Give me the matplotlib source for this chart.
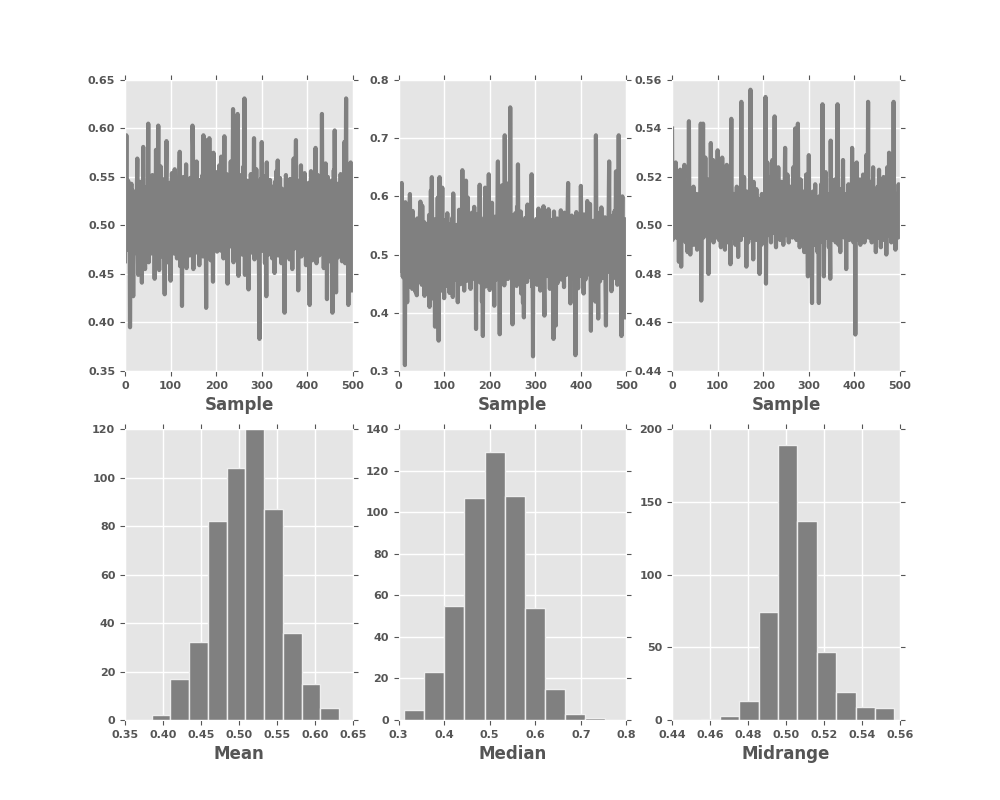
import numpy as np
import matplotlib
matplotlib.use('Agg')
from matplotlib import pyplot as plt

# trace values in thousandths (sample 0..499)
mean_k = [
    463, 548, 512, 593, 497, 531, 475, 546, 488, 520, 541, 395, 476, 529, 543, 502, 487, 536, 427, 518, 471, 533, 506, 490, 524,
    498, 537, 569, 481, 449, 512, 527, 463, 545, 501, 492, 534, 441, 519, 486, 581, 473, 528, 511, 455, 539, 492, 522, 477, 531,
    508, 605, 462, 527, 489, 543, 516, 471, 534, 498, 552, 480, 521, 503, 538, 445, 511, 486, 578, 495, 529, 457, 547, 603, 519,
    454, 532, 501, 561, 476, 525, 493, 548, 510, 467, 537, 484, 429, 526, 497, 553, 587, 472, 515, 539, 488, 522, 461, 544, 503,
    443, 529, 509, 554, 478, 517, 493, 536, 471, 558, 502, 485, 530, 512, 466, 546, 497, 523, 481, 541, 576, 458, 519, 505, 534,
    417, 528, 491, 550, 507, 474, 539, 513, 486, 563, 456, 521, 498, 544, 479, 532, 505, 469, 549, 516, 490, 537, 473, 603, 582,
    455, 526, 501, 545, 483, 519, 494, 566, 472, 533, 510, 488, 547, 459, 524, 502, 538, 476, 515, 491, 552, 468, 593, 507, 480,
    535, 497, 521, 415, 543, 588, 484, 526, 509, 471, 590, 502, 537, 464, 518, 548, 489, 530, 442, 575, 496, 522, 477, 540, 513,
    487, 555, 473, 529, 506, 544, 481, 562, 498, 519, 474, 571, 503, 534, 491, 548, 466, 525, 592, 510, 485, 538, 470, 553, 500,
    440, 531, 512, 549, 478, 527, 493, 566, 505, 483, 541, 519, 620, 462, 536, 499, 557, 474, 524, 508, 545, 487, 615, 501, 448,
    533, 496, 552, 479, 520, 505, 543, 470, 528, 488, 561, 511, 631, 449, 537, 494, 518, 476, 546, 502, 527, 434, 540, 483, 516,
    499, 553, 472, 536, 508, 489, 544, 517, 590, 465, 529, 503, 481, 558, 493, 522, 475, 539, 510, 453, 383, 531, 497, 548, 486,
    586, 474, 526, 501, 543, 488, 519, 461, 551, 496, 427, 565, 512, 483, 535, 470, 523, 507, 547, 479, 530, 492, 514, 466, 540,
    503, 487, 528, 451, 545, 512, 478, 556, 497, 521, 567, 469, 534, 508, 485, 549, 493, 524, 461, 538, 505, 482, 529, 471, 516,
    410, 537, 499, 552, 486, 520, 472, 543, 509, 493, 531, 465, 548, 502, 480, 526, 514, 455, 539, 497, 569, 476, 522, 506, 545,
    588, 484, 530, 498, 517, 433, 546, 511, 479, 535, 492, 562, 468, 524, 505, 541, 477, 519, 496, 554, 483, 528, 459, 537, 501,
    487, 526, 510, 544, 473, 418, 533, 497, 556, 481, 520, 464, 539, 506, 490, 547, 475, 527, 580, 499, 461, 535, 512, 552, 486,
    523, 469, 541, 503, 488, 532, 478, 615, 495, 529, 511, 456, 545, 484, 519, 564, 471, 536, 424, 507, 550, 490, 526, 463, 538,
    497, 520, 481, 546, 506, 410, 533, 492, 557, 474, 598, 515, 489, 431, 528, 502, 543, 467, 525, 485, 539, 510, 477, 553, 496,
    532, 463, 518, 500, 544, 479, 586, 507, 461, 527, 631, 489, 548, 472, 514, 418, 537, 495, 523, 481, 565, 508, 476, 541, 433,
]

median_k = [
    465, 548, 591, 497, 533, 472, 556, 623, 488, 519, 461, 542, 503, 476, 310, 590, 451, 528, 494, 418, 537, 482, 512, 445, 566,
    604, 499, 458, 531, 516, 441, 575, 487, 524, 463, 551, 506, 436, 543, 478, 430, 562, 497, 519, 453, 538, 483, 571, 591, 472,
    509, 448, 584, 493, 527, 462, 556, 429, 501, 541, 474, 518, 489, 553, 437, 532, 496, 568, 410, 522, 481, 610, 466, 633, 505,
    458, 545, 424, 528, 492, 376, 561, 514, 471, 539, 487, 598, 447, 352, 516, 633, 503, 468, 549, 438, 526, 615, 478, 531, 496,
    425, 559, 484, 512, 446, 537, 498, 571, 462, 523, 489, 547, 434, 506, 552, 475, 518, 491, 563, 427, 605, 481, 532, 457, 544,
    495, 528, 463, 551, 485, 418, 539, 502, 577, 472, 521, 449, 563, 494, 531, 645, 467, 543, 508, 438, 556, 489, 524, 627, 476,
    513, 455, 598, 487, 536, 471, 560, 504, 441, 527, 493, 572, 466, 518, 548, 479, 582, 502, 457, 533, 372, 545, 488, 569, 511,
    464, 537, 496, 620, 452, 527, 483, 556, 419, 508, 360, 541, 477, 563, 499, 615, 445, 532, 490, 574, 468, 521, 505, 638, 486,
    439, 553, 494, 527, 466, 589, 510, 475, 544, 501, 412, 565, 488, 529, 457, 548, 497, 583, 660, 471, 535, 508, 363, 552, 480,
    541, 493, 619, 469, 526, 504, 583, 447, 705, 515, 486, 562, 477, 595, 531, 458, 549, 501, 624, 472, 753, 496, 538, 463, 568,
    380, 527, 489, 554, 509, 466, 571, 492, 536, 446, 582, 514, 655, 479, 523, 461, 547, 501, 574, 433, 532, 487, 559, 417, 518,
    392, 545, 498, 563, 474, 527, 509, 453, 586, 493, 537, 461, 551, 516, 480, 573, 499, 638, 445, 528, 325, 554, 486, 519, 467,
    532, 478, 561, 503, 448, 544, 491, 579, 467, 525, 507, 438, 568, 486, 521, 472, 547, 500, 583, 456, 395, 536, 492, 555, 473,
    517, 463, 549, 495, 578, 481, 532, 441, 560, 504, 487, 542, 468, 526, 498, 355, 574, 511, 479, 545, 378, 522, 493, 562, 451,
    528, 487, 556, 470, 541, 512, 576, 457, 519, 496, 563, 482, 534, 444, 572, 506, 489, 547, 465, 523, 501, 578, 623, 474, 538,
    492, 551, 416, 527, 480, 567, 503, 459, 539, 488, 521, 471, 548, 327, 512, 573, 477, 534, 496, 442, 560, 508, 484, 529, 463,
    618, 495, 537, 471, 552, 504, 433, 569, 488, 526, 457, 543, 509, 478, 592, 497, 531, 466, 555, 483, 587, 514, 369, 540, 491,
    522, 464, 558, 501, 477, 536, 493, 419, 705, 512, 485, 547, 469, 390, 529, 506, 572, 454, 538, 495, 581, 474, 519, 460, 552,
    488, 533, 497, 564, 446, 378, 541, 509, 476, 527, 492, 585, 660, 470, 518, 503, 549, 437, 531, 482, 567, 459, 524, 499, 575,
    463, 536, 643, 489, 520, 448, 557, 505, 705, 472, 529, 494, 551, 466, 360, 532, 600, 487, 543, 512, 476, 561, 498, 525, 392,
]

midrange_k = [
    540, 494, 512, 503, 498, 521, 507, 500, 526, 495, 509, 502, 517, 499, 505, 485, 511, 497, 523, 503, 483, 508, 501, 514, 496,
    504, 519, 525, 498, 507, 493, 512, 500, 506, 489, 515, 502, 543, 497, 509, 488, 504, 507, 499, 511, 495, 503, 516, 492, 506,
    501, 509, 496, 505, 513, 490, 502, 507, 498, 511, 494, 504, 509, 542, 469, 506, 500, 513, 542, 495, 503, 508, 497, 528, 500,
    511, 496, 504, 519, 499, 480, 507, 502, 515, 494, 534, 505, 498, 510, 501, 527, 493, 506, 500, 518, 497, 509, 503, 525, 495,
    531, 502, 508, 494, 516, 500, 505, 491, 512, 498, 528, 503, 496, 514, 501, 507, 490, 522, 499, 506, 525, 497, 510, 493, 504,
    518, 500, 507, 484, 511, 544, 502, 497, 509, 495, 505, 513, 499, 503, 492, 508, 501, 516, 496, 506, 487, 510, 500, 504, 498,
    507, 494, 551, 503, 499, 512, 496, 505, 520, 501, 509, 497, 504, 483, 514, 500, 506, 493, 511, 498, 503, 508, 556, 495, 502,
    510, 499, 505, 486, 518, 502, 496, 508, 500, 504, 515, 494, 507, 501, 511, 497, 503, 480, 509, 498, 506, 492, 513, 500, 504,
    499, 511, 495, 506, 502, 553, 476, 509, 498, 526, 504, 500, 512, 496, 507, 520, 501, 493, 510, 505, 527, 497, 503, 508, 501,
    545, 498, 506, 491, 514, 502, 509, 496, 524, 500, 505, 512, 494, 507, 501, 518, 497, 503, 510, 492, 506, 499, 515, 532, 501,
    496, 508, 503, 521, 499, 505, 493, 511, 500, 507, 516, 498, 504, 509, 495, 502, 524, 497, 506, 513, 540, 501, 508, 494, 503,
    498, 542, 505, 500, 511, 491, 506, 519, 497, 503, 509, 495, 514, 501, 507, 489, 512, 498, 504, 521, 496, 508, 493, 479, 502,
    529, 500, 507, 494, 509, 502, 497, 468, 505, 514, 499, 508, 492, 503, 517, 496, 506, 501, 510, 489, 504, 498, 468, 512, 503,
    496, 509, 517, 501, 505, 550, 493, 507, 479, 511, 498, 504, 522, 500, 508, 495, 513, 502, 506, 491, 510, 499, 478, 535, 503,
    500, 508, 494, 512, 503, 498, 506, 519, 501, 493, 509, 504, 497, 550, 505, 492, 511, 500, 507, 489, 515, 502, 498, 506, 510,
    527, 499, 504, 495, 510, 503, 508, 482, 513, 500, 506, 497, 517, 502, 494, 509, 505, 499, 511, 496, 532, 501, 507, 493, 504,
    498, 510, 455, 506, 502, 526, 494, 509, 500, 514, 497, 505, 519, 492, 508, 501, 511, 496, 504, 521, 499, 507, 493, 515, 502,
    506, 529, 497, 511, 503, 551, 495, 508, 500, 518, 504, 498, 512, 493, 507, 501, 524, 496, 505, 510, 499, 514, 489, 503, 508,
    500, 516, 495, 506, 523, 502, 498, 509, 491, 504, 512, 497, 507, 501, 520, 494, 508, 503, 499, 511, 488, 506, 524, 500, 509,
    496, 530, 503, 498, 512, 505, 493, 527, 501, 508, 495, 551, 502, 497, 510, 490, 506, 500, 513, 498, 504, 495, 517, 501, 506,
]

mean_counts = [2, 17, 32, 82, 104, 120, 87, 36, 15, 5]
mean_range = (0.385, 0.632)
median_counts = [5, 23, 55, 107, 129, 108, 54, 15, 3, 1]
median_range = (0.312, 0.754)
midrange_counts = [1, 3, 13, 74, 189, 137, 47, 19, 9, 8]
midrange_range = (0.455, 0.557)

names = ['Mean', 'Median', 'Midrange']
traces = [np.array(mean_k) / 1000, np.array(median_k) / 1000, np.array(midrange_k) / 1000]
counts = [mean_counts, median_counts, midrange_counts]
ranges = [mean_range, median_range, midrange_range]

trace_yticks = [np.arange(0.35, 0.651, 0.05), np.arange(0.3, 0.801, 0.1), np.arange(0.44, 0.561, 0.02)]
trace_fmt = ['%.2f', '%.1f', '%.2f']
hist_yticks = [np.arange(0, 121, 20), np.arange(0, 141, 20), np.arange(0, 201, 50)]

text_color = '#555555'
plt.rcParams.update({
    'font.family': 'DejaVu Sans',
    'font.weight': 'bold',
    'font.size': 8,
    'axes.facecolor': '#E5E5E5',
    'axes.edgecolor': 'white',
    'axes.grid': True,
    'axes.axisbelow': True,
    'grid.color': 'white',
    'grid.linestyle': '-',
    'grid.linewidth': 1.0,
    'axes.labelcolor': text_color,
    'axes.labelweight': 'bold',
    'axes.labelsize': 12,
    'xtick.color': text_color,
    'ytick.color': text_color,
    'xtick.direction': 'out',
    'ytick.direction': 'out',
    'xtick.top': True,
    'ytick.right': True,
})

fig, axes = plt.subplots(2, 3, figsize=(10, 8), dpi=100)
fig.subplots_adjust(left=0.125, right=0.9, bottom=0.1, top=0.9, wspace=0.2, hspace=0.2)

for i in range(3):
    ax = axes[0, i]
    y = traces[i]
    ax.plot(np.arange(len(y)), y, color='gray', linewidth=3)
    ax.set_xlim(0, 500)
    ax.set_xticks(np.arange(0, 501, 100))
    yt = trace_yticks[i]
    ax.set_ylim(yt[0], yt[-1])
    ax.set_yticks(yt)
    ax.set_yticklabels([trace_fmt[i] % v for v in yt])
    ax.set_xlabel('Sample')

    ax = axes[1, i]
    lo, hi = ranges[i]
    edges = np.linspace(lo, hi, len(counts[i]) + 1)
    ax.hist(edges[:-1], bins=edges, weights=counts[i], color='gray', edgecolor='#EEEEEE', linewidth=1)
    xt = trace_yticks[i]
    ax.set_xlim(xt[0], xt[-1])
    ax.set_xticks(xt)
    ax.set_xticklabels([trace_fmt[i] % v for v in xt])
    ht = hist_yticks[i]
    ax.set_ylim(ht[0], ht[-1])
    ax.set_yticks(ht)
    ax.set_xlabel(names[i])

for ax in axes.flat:
    ax.tick_params(labeltop=False, labelright=False)

plt.savefig('out.png', dpi=100)
plt.close(fig)
